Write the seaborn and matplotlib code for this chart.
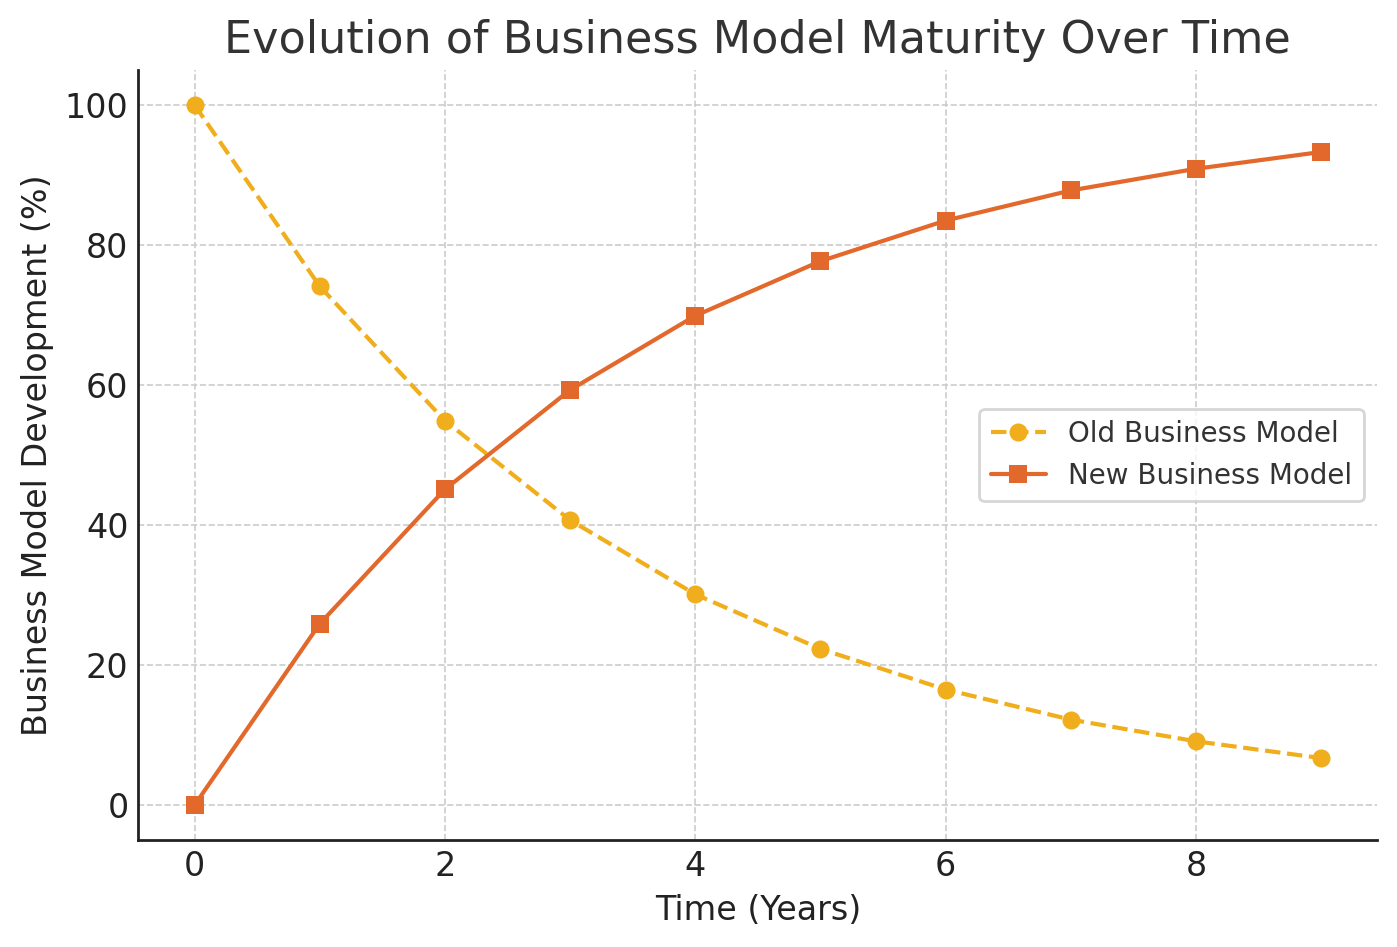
import seaborn as sns
import matplotlib.pyplot as plt
import pandas as pd

# data
years = [0, 1, 2, 3, 4, 5, 6, 7, 8, 9]
old_model = [100, 74.1, 54.9, 40.7, 30.1, 22.3, 16.5, 12.2, 9.1, 6.7]
new_model = [0, 25.9, 45.1, 59.3, 69.9, 77.7, 83.5, 87.8, 90.9, 93.3]

df = pd.DataFrame({"Years": years, "Old": old_model, "New": new_model})

sns.set_style("white")
plt.rcParams["font.family"] = ["DejaVu Sans"]

fig = plt.figure(figsize=(6.985, 4.735), dpi=200)
ax = fig.add_axes([0.099, 0.113, 0.887, 0.813])

sns.lineplot(data=df, x="Years", y="Old", ax=ax, color="#F0AE1C", linestyle="--",
             marker="o", markersize=6.5, markeredgewidth=0, linewidth=1.5,
             label="Old Business Model")
sns.lineplot(data=df, x="Years", y="New", ax=ax, color="#E2692B", linestyle="-",
             marker="s", markersize=6.5, markeredgewidth=0, linewidth=1.5,
             label="New Business Model")

ax.set_title("Evolution of Business Model Maturity Over Time", fontsize=16, color="#333333")
ax.set_xlabel("Time (Years)", fontsize=12, color="#222222")
ax.set_ylabel("Business Model Development (%)", fontsize=12, color="#222222")
ax.set_xticks([0, 2, 4, 6, 8])
ax.set_yticks([0, 20, 40, 60, 80, 100])
ax.set_xlim(-0.45, 9.45)
ax.set_ylim(-5, 105)
ax.tick_params(direction="in", labelsize=12, length=4, width=1, colors="#222222")
ax.grid(True, linestyle="--", color="#cccccc", linewidth=0.6)
for side in ["top", "right"]:
    ax.spines[side].set_visible(False)
for side in ["left", "bottom"]:
    ax.spines[side].set_linewidth(1.0)
    ax.spines[side].set_color("#222222")

leg = ax.legend(loc="center right", fontsize=10, frameon=True)
for t in leg.get_texts():
    t.set_color("#333333")

fig.savefig("out.png", dpi=200)
